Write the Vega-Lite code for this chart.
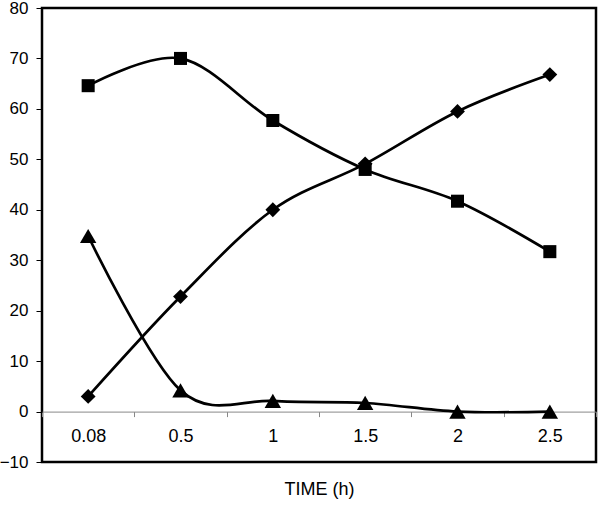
{
  "$schema": "https://vega.github.io/schema/vega-lite/v6.json",
  "width": 554,
  "height": 454,
  "autosize": "none",
  "padding": {"left": 42, "top": 8, "right": 4, "bottom": 44},
  "background": "white",
  "config": {
    "view": {"stroke": "black", "strokeWidth": 2.5},
    "font": "Liberation Sans"
  },
  "data": {
    "values": [
      {"time": "0.08", "series": "A", "value": 64.6},
      {"time": "0.5", "series": "A", "value": 70.0},
      {"time": "1", "series": "A", "value": 57.7},
      {"time": "1.5", "series": "A", "value": 48.0},
      {"time": "2", "series": "A", "value": 41.7},
      {"time": "2.5", "series": "A", "value": 31.7},
      {"time": "0.08", "series": "B", "value": 3.0},
      {"time": "0.5", "series": "B", "value": 22.8},
      {"time": "1", "series": "B", "value": 40.0},
      {"time": "1.5", "series": "B", "value": 49.1},
      {"time": "2", "series": "B", "value": 59.5},
      {"time": "2.5", "series": "B", "value": 66.8},
      {"time": "0.08", "series": "C", "value": 34.8},
      {"time": "0.5", "series": "C", "value": 4.2},
      {"time": "1", "series": "C", "value": 2.1},
      {"time": "1.5", "series": "C", "value": 1.7},
      {"time": "2", "series": "C", "value": 0.0},
      {"time": "2.5", "series": "C", "value": 0.0}
    ]
  },
  "encoding": {
    "x": {
      "field": "time",
      "type": "ordinal",
      "sort": ["0.08", "0.5", "1", "1.5", "2", "2.5"],
      "scale": {"type": "band", "paddingInner": 0, "paddingOuter": 0},
      "axis": {
        "title": "TIME (h)",
        "titleFontSize": 18,
        "titleFontWeight": "normal",
        "titleColor": "black",
        "titleBaseline": "alphabetic",
        "titleY": 83,
        "offset": -50.4,
        "domainColor": "#888888",
        "domainWidth": 1,
        "tickColor": "#888888",
        "tickWidth": 1,
        "tickSize": 5,
        "tickBand": "extent",
        "labelAngle": 0,
        "labelFontSize": 18,
        "labelColor": "black",
        "labelPadding": 11
      }
    },
    "y": {
      "field": "value",
      "type": "quantitative",
      "scale": {"domain": [-10, 80], "nice": false, "zero": false},
      "axis": {
        "title": null,
        "values": [-10, 0, 10, 20, 30, 40, 50, 60, 70, 80],
        "grid": false,
        "domain": false,
        "tickColor": "black",
        "tickSize": 6,
        "tickWidth": 1,
        "labelFontSize": 17,
        "labelColor": "black",
        "labelPadding": 8
      }
    }
  },
  "layer": [
    {
      "mark": {"type": "line", "interpolate": "cardinal", "tension": 0, "color": "black", "strokeWidth": 2.7},
      "encoding": {"detail": {"field": "series"}}
    },
    {
      "mark": {"type": "point", "filled": true, "color": "black", "opacity": 1},
      "encoding": {
        "shape": {"field": "series", "scale": {"domain": ["A", "B", "C"], "range": ["square", "diamond", "triangle-up"]}, "legend": null},
        "size": {"field": "series", "type": "nominal", "scale": {"domain": ["A", "B", "C"], "range": [170, 270, 240]}, "legend": null}
      }
    }
  ]
}
